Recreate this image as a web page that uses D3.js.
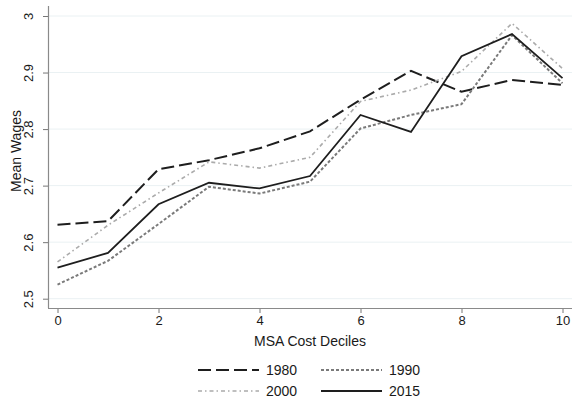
<!DOCTYPE html>
<html>
<head>
<meta charset="utf-8">
<script src="https://cdn.jsdelivr.net/npm/d3@7"></script>
<style>
  body { margin: 0; background: #fff; }
  svg { font-family: "Liberation Sans", Arial, sans-serif; }
</style>
</head>
<body>
<div id="chart"></div>
<script>
// deciles on the x axis
var deciles = [0, 1, 2, 3, 4, 5, 6, 7, 8, 9, 10];

// mean wages
var wages1980 = [2.631, 2.637, 2.729, 2.745, 2.766, 2.796, 2.852, 2.903, 2.866, 2.887, 2.878];
var wages1990 = [2.525, 2.567, 2.632, 2.698, 2.686, 2.707, 2.801, 2.825, 2.844, 2.966, 2.881];
var wages2000 = [2.565, 2.630, 2.687, 2.742, 2.731, 2.750, 2.849, 2.869, 2.902, 2.987, 2.907];
var wages2015 = [2.555, 2.581, 2.667, 2.705, 2.695, 2.717, 2.825, 2.795, 2.929, 2.968, 2.890];

var yTicks = [2.5, 2.6, 2.7, 2.8, 2.9, 3];
var xTicks = [0, 2, 4, 6, 8, 10];

var series = [
  {name: "1980", values: wages1980, color: "#1e1e1e", width: 2, dash: "13,5"},
  {name: "1990", values: wages1990, color: "#7a7a7a", width: 2, dash: "3,2"},
  {name: "2000", values: wages2000, color: "#ababab", width: 1.6, dash: "4,3,1.5,3"},
  {name: "2015", values: wages2015, color: "#1e1e1e", width: 1.8, dash: null}
];

var W = 572, H = 404;
var plotLeft = 48, plotRight = 572, plotTop = 6, plotBottom = 308;

var svg = d3.select("#chart").append("svg")
    .attr("width", W)
    .attr("height", H);

var x = d3.scaleLinear().domain([0, 10]).range([57.5, 562.5]);
var y = d3.scaleLinear().domain([2.5, 3]).range([298.7, 16]);

// gridlines
svg.append("g")
  .selectAll("line")
  .data(yTicks)
  .enter().append("line")
    .attr("x1", plotLeft)
    .attr("x2", plotRight)
    .attr("y1", function(d) { return y(d); })
    .attr("y2", function(d) { return y(d); })
    .attr("stroke", "#eaf1f3")
    .attr("stroke-width", 1);

// y axis
var yAxis = svg.append("g")
  .attr("transform", "translate(" + plotLeft + ",0)")
  .call(d3.axisLeft(y).tickValues(yTicks).tickSize(5).tickFormat(d3.format("~g")));
yAxis.select(".domain").remove();
yAxis.selectAll(".tick line").attr("stroke", "#777");
yAxis.selectAll(".tick text")
  .attr("x", 0).attr("dy", 0)
  .attr("transform", "translate(-15,0) rotate(-90)")
  .attr("text-anchor", "middle")
  .style("font-size", "13px")
  .attr("fill", "#1a1a1a");

// x axis
var xAxis = svg.append("g")
  .attr("transform", "translate(0," + plotBottom + ")")
  .call(d3.axisBottom(x).tickValues(xTicks).tickSize(5));
xAxis.select(".domain").remove();
xAxis.selectAll(".tick line").attr("stroke", "#777");
xAxis.selectAll(".tick text")
  .attr("y", 8)
  .style("font-size", "13px")
  .attr("fill", "#1a1a1a");

// axis lines
svg.append("line")
  .attr("x1", plotLeft + 0.5).attr("x2", plotLeft + 0.5)
  .attr("y1", plotTop).attr("y2", plotBottom)
  .attr("stroke", "#8a8a8a").attr("stroke-width", 1.2);
svg.append("line")
  .attr("x1", plotLeft).attr("x2", plotRight)
  .attr("y1", plotBottom + 0.5).attr("y2", plotBottom + 0.5)
  .attr("stroke", "#8a8a8a").attr("stroke-width", 1.2);

// series lines
var line = d3.line()
  .x(function(d, i) { return x(deciles[i]); })
  .y(function(d) { return y(d); });

svg.selectAll(".series")
  .data(series)
  .enter().append("path")
    .attr("class", "series")
    .attr("d", function(d) { return line(d.values); })
    .attr("fill", "none")
    .attr("stroke", function(d) { return d.color; })
    .attr("stroke-width", function(d) { return d.width; })
    .attr("stroke-dasharray", function(d) { return d.dash; });

// axis titles
svg.append("text")
  .attr("x", (plotLeft + plotRight) / 2)
  .attr("y", 346)
  .attr("text-anchor", "middle")
  .style("font-size", "14px")
  .attr("fill", "#1a1a1a")
  .text("MSA Cost Deciles");

svg.append("text")
  .attr("transform", "translate(21," + ((plotTop + plotBottom) / 2 - 6) + ") rotate(-90)")
  .attr("text-anchor", "middle")
  .style("font-size", "14px")
  .attr("fill", "#1a1a1a")
  .text("Mean Wages");

// legend, two columns
var legendPos = [
  {x: 198, y: 370}, {x: 321, y: 370},
  {x: 198, y: 391}, {x: 321, y: 391}
];
var legend = svg.selectAll(".legend")
  .data(series)
  .enter().append("g")
    .attr("class", "legend")
    .attr("transform", function(d, i) { return "translate(" + legendPos[i].x + "," + legendPos[i].y + ")"; });

legend.append("line")
  .attr("x1", 0).attr("x2", 61)
  .attr("y1", 0).attr("y2", 0)
  .attr("stroke", function(d) { return d.color; })
  .attr("stroke-width", function(d) { return d.width; })
  .attr("stroke-dasharray", function(d) { return d.dash; });

legend.append("text")
  .attr("x", 68)
  .attr("y", 5)
  .style("font-size", "14px")
  .attr("fill", "#1a1a1a")
  .text(function(d) { return d.name; });
</script>
</body>
</html>
